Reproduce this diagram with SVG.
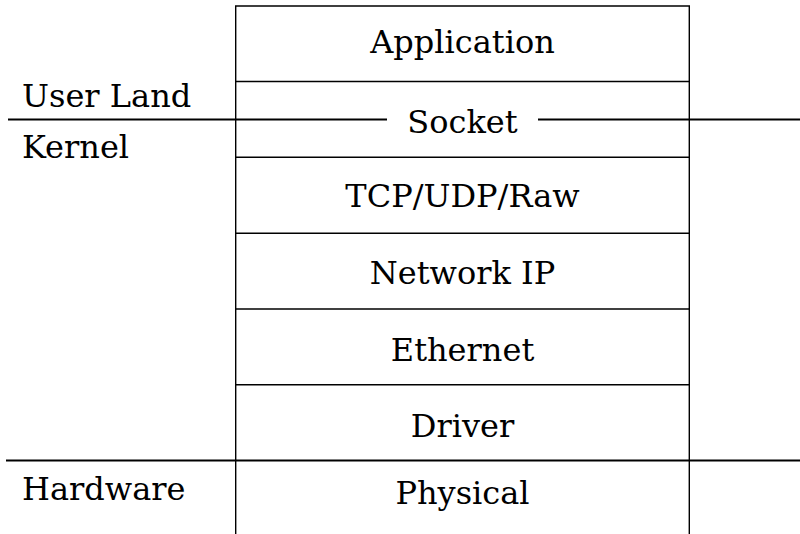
<svg xmlns="http://www.w3.org/2000/svg" width="800" height="534" viewBox="0 0 800 534">
<style>
text{font-family:'DejaVu Serif',serif;font-size:32px;fill:#000}
.c{text-anchor:middle}
.b{stroke:#000;stroke-width:1.4;fill:none}
.s{stroke:#000;stroke-width:2;fill:none}
</style>
<rect width="800" height="534" fill="#fff"/>
<g id="stack">
<path class="b" d="M235.7,534 V6 H689.3 V534"/>
</g>
<g id="application"><path class="b" d="M235.7,81.5 H689.3"/><text class="c" x="462.5" y="53">Application</text></g>
<g id="socket"><path class="b" d="M235.7,157.3 H689.3"/><text class="c" x="462.5" y="133">Socket</text></g>
<g id="tcp"><path class="b" d="M235.7,233.3 H689.3"/><text class="c" x="462.5" y="207">TCP/UDP/Raw</text></g>
<g id="network"><path class="b" d="M235.7,309 H689.3"/><text class="c" x="462.5" y="284">Network IP</text></g>
<g id="ethernet"><path class="b" d="M235.7,384.7 H689.3"/><text class="c" x="462.5" y="360.5">Ethernet</text></g>
<g id="driver"><text class="c" x="462.5" y="437">Driver</text></g>
<g id="physical"><text class="c" x="462.5" y="504">Physical</text></g>
<g id="connectors">
<path class="s" d="M8,119.5 H387 M538,119.5 H800"/>
<path class="s" d="M6,460.5 H800"/>
</g>
<g id="labels">
<text x="22" y="107">User Land</text>
<text x="22" y="158">Kernel</text>
<text x="22" y="500">Hardware</text>
</g>
</svg>
